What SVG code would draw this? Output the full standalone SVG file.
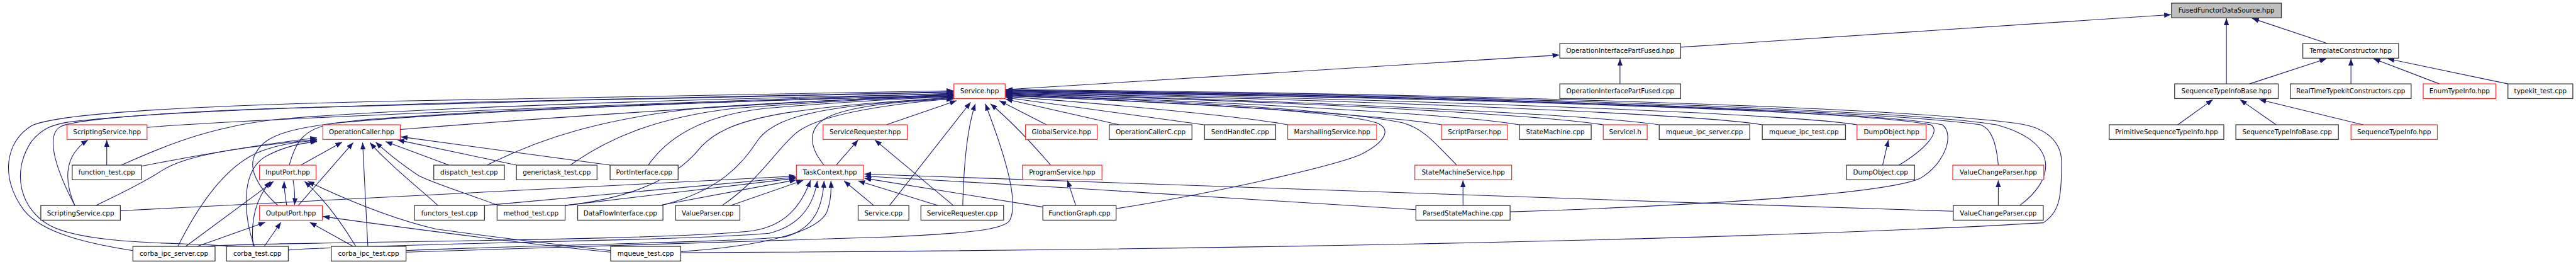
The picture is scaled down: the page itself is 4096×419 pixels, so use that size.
<svg xmlns="http://www.w3.org/2000/svg" width="4096" height="419" viewBox="0 0 4096 419">
<style>
.n rect{fill:#fff;stroke:#333;stroke-width:1.5}
.n.r rect{stroke:#ff2020;stroke-width:1.4}
.n.g rect{fill:#bfbfbf;stroke:#333}
.n text{font-family:"DejaVu Sans","Liberation Sans",sans-serif;font-size:12.5px;text-anchor:middle;fill:#000}
#edges path{fill:none;stroke:#191970;stroke-width:1.3;marker-end:url(#arr)}
</style>
<defs>
<marker id="arr" markerWidth="13" markerHeight="10" refX="13" refY="5" orient="auto" markerUnits="userSpaceOnUse"><path d="M0,0 L13,5 L0,10 z" fill="#191970"/></marker>
</defs>
<rect width="4096" height="419" fill="#fff"/>
<g transform="scale(0.832)">
<g id="edges">
<path d="M3212,90 L4149,28"/>
<path d="M4255,160 L4255,35"/>
<path d="M4448,83 L4304,35"/>
<path d="M1921,171 L2980,105"/>
<path d="M3096,160 L3096,112"/>
<path d="M4299,160 L4446,112"/>
<path d="M4493,160 L4493,112"/>
<path d="M4662,160 L4536,112"/>
<path d="M4793,160 L4563,112"/>
<path d="M4162,238 L4229,190"/>
<path d="M4350,238 L4281,190"/>
<path d="M4516,238 L4318,190"/>
<path d="M254,478 C170,465 80,445 45,400 C0,340 10,270 60,240 C110,215 400,200 800,192 C1200,184 1600,176 1822,173"/>
<path d="M436,470 C380,462 170,470 95,430 C40,400 20,330 60,270 C80,245 100,238 130,233 C300,212 600,205 900,195 C1300,185 1600,178 1822,175"/>
<path d="M143,392 C110,330 85,260 115,242 C140,228 300,215 520,207 C900,195 1500,182 1822,176"/>
<path d="M281,243 C500,225 1300,195 1822,178"/>
<path d="M232,315 C320,275 420,235 560,225 C900,200 1500,185 1822,179"/>
<path d="M765,247 C1100,220 1500,195 1822,180"/>
<path d="M553,315 C565,270 580,245 640,235 C900,210 1500,190 1822,181"/>
<path d="M531,392 C495,360 470,320 490,290 C510,255 560,242 700,228 C1000,205 1500,190 1822,182"/>
<path d="M931,315 C1030,265 1150,225 1350,205 C1550,192 1700,186 1822,183"/>
<path d="M1090,315 C1160,265 1250,225 1400,207 C1600,192 1700,187 1822,184"/>
<path d="M1239,315 C1270,270 1330,222 1460,207 C1600,195 1720,188 1822,185"/>
<path d="M1080,392 C1230,375 1300,330 1340,280 C1390,225 1500,205 1822,186"/>
<path d="M1267,391 C1380,362 1420,310 1450,265 C1490,215 1600,200 1822,187"/>
<path d="M1380,392 C1450,345 1480,290 1520,255 C1560,220 1680,200 1822,188"/>
<path d="M1575,315 C1545,280 1540,240 1590,220 C1640,200 1740,192 1822,189"/>
<path d="M1694,238 L1828,192"/>
<path d="M1700,392 L1855,195"/>
<path d="M1840,392 C1842,300 1850,240 1864,198"/>
<path d="M776,481 C1000,472 1500,460 1700,452 C1850,445 1920,438 1930,420 C1945,390 1930,320 1883,198"/>
<path d="M2008,315 C1965,265 1925,225 1893,198"/>
<path d="M2000,238 L1910,192"/>
<path d="M2139,238 L1922,189"/>
<path d="M2301,238 L1922,186"/>
<path d="M2461,238 C2400,226 2150,200 1922,184"/>
<path d="M2133,398 C2300,372 2540,320 2600,295 C2650,270 2660,245 2630,234 C2560,212 2250,195 1922,183"/>
<path d="M2755,238 C2650,220 2300,198 1922,182"/>
<path d="M2784,315 C2740,270 2720,245 2680,234 C2560,210 2250,192 1922,181"/>
<path d="M2904,238 C2800,220 2400,196 1922,180"/>
<path d="M3064,238 C2950,220 2500,194 1922,179"/>
<path d="M3171,238 C3050,220 2500,192 1922,178"/>
<path d="M3368,238 C3250,218 2600,190 1922,177"/>
<path d="M3549,238 C3430,218 2700,188 1922,176"/>
<path d="M3629,315 C3680,285 3710,250 3690,238 C3560,212 2800,186 1922,175"/>
<path d="M2886,404 C3200,394 3600,372 3670,340 C3720,310 3735,255 3712,238 C3580,212 2800,184 1922,174"/>
<path d="M3819,315 C3815,270 3805,245 3785,238 C3600,212 2800,182 1922,173"/>
<path d="M3860,392 C3930,340 3935,270 3815,238 C3650,210 2800,180 1922,172"/>
<path d="M1301,482 C2200,478 3300,460 3905,425 C3935,405 3940,380 3940,310 C3940,270 3910,245 3865,237 C3650,205 2800,178 1922,171"/>
<path d="M270,317 C400,292 500,275 606,263"/>
<path d="M183,392 C240,365 280,345 310,325 C350,300 420,285 606,266"/>
<path d="M340,470 C380,390 430,320 490,292 C530,275 570,270 606,268"/>
<path d="M486,470 C465,410 460,330 505,300 C540,280 575,273 606,270"/>
<path d="M575,315 L654,271"/>
<path d="M570,392 L675,272"/>
<path d="M703,470 L693,272"/>
<path d="M837,392 C790,350 740,310 707,272"/>
<path d="M950,391 C880,365 830,350 800,335 C770,315 740,292 718,271"/>
<path d="M858,315 L737,270"/>
<path d="M987,315 L760,267"/>
<path d="M1166,315 L766,261"/>
<path d="M355,470 L523,346"/>
<path d="M484,470 C478,420 488,380 517,346"/>
<path d="M548,392 C545,375 543,360 543,346"/>
<path d="M680,470 C650,420 620,380 582,346"/>
<path d="M1167,478 C1100,470 1000,460 833,437 C760,420 680,390 588,346"/>
<path d="M377,470 L507,424"/>
<path d="M505,470 L537,424"/>
<path d="M560,343 C563,360 564,375 563,391"/>
<path d="M675,470 L592,424"/>
<path d="M1167,481 C1050,470 850,445 617,413"/>
<path d="M204,315 L204,267"/>
<path d="M143,392 C120,340 125,295 168,267"/>
<path d="M230,402 L1521,336"/>
<path d="M926,392 L1521,338"/>
<path d="M1080,392 L1521,340"/>
<path d="M1265,391 L1522,343"/>
<path d="M1396,392 L1535,344"/>
<path d="M395,470 C430,462 1300,460 1440,440 C1500,430 1530,395 1549,344"/>
<path d="M551,477 C700,465 1300,460 1470,445 C1530,430 1555,390 1562,345"/>
<path d="M776,478 C1000,468 1400,462 1500,452 C1560,435 1572,390 1575,345"/>
<path d="M1301,480 C1450,470 1560,445 1580,405 C1588,385 1589,365 1588,345"/>
<path d="M1670,392 L1613,345"/>
<path d="M1793,392 L1640,345"/>
<path d="M1993,395 L1652,340"/>
<path d="M2706,400 C2400,380 2000,355 1652,336"/>
<path d="M3733,403 C3000,380 2200,350 1652,332"/>
<path d="M1598,315 L1640,267"/>
<path d="M1822,392 L1672,267"/>
<path d="M2056,392 L2040,344"/>
<path d="M2796,392 L2796,344"/>
<path d="M3598,315 L3609,267"/>
<path d="M3819,392 L3819,344"/>
</g>
<g id="n1" class="n g"><rect x="4150" y="6" width="210" height="28"/><text x="4255" y="24.5">FusedFunctorDataSource.hpp</text></g>
<g id="n2" class="n"><rect x="2981" y="83" width="231" height="28"/><text x="3096.5" y="101.5">OperationInterfacePartFused.hpp</text></g>
<g id="n3" class="n"><rect x="4401" y="83" width="183" height="28"/><text x="4492.5" y="101.5">TemplateConstructor.hpp</text></g>
<g id="n4" class="n r"><rect x="1823" y="160" width="98" height="28"/><text x="1872" y="178.5">Service.hpp</text></g>
<g id="n5" class="n"><rect x="2981" y="160" width="231" height="28"/><text x="3096.5" y="178.5">OperationInterfacePartFused.cpp</text></g>
<g id="n6" class="n"><rect x="4156" y="160" width="198" height="28"/><text x="4255" y="178.5">SequenceTypeInfoBase.hpp</text></g>
<g id="n7" class="n"><rect x="4377" y="160" width="231" height="28"/><text x="4492.5" y="178.5">RealTimeTypekitConstructors.cpp</text></g>
<g id="n8" class="n r"><rect x="4631" y="160" width="139" height="28"/><text x="4700.5" y="178.5">EnumTypeInfo.hpp</text></g>
<g id="n9" class="n"><rect x="4793" y="160" width="124" height="28"/><text x="4855" y="178.5">typekit_test.cpp</text></g>
<g id="n10" class="n r"><rect x="128" y="238" width="153" height="28"/><text x="204.5" y="256.5">ScriptingService.hpp</text></g>
<g id="n11" class="n r"><rect x="617" y="238" width="148" height="28"/><text x="691" y="256.5">OperationCaller.hpp</text></g>
<g id="n12" class="n r"><rect x="1573" y="238" width="161" height="28"/><text x="1653.5" y="256.5">ServiceRequester.hpp</text></g>
<g id="n13" class="n r"><rect x="1960" y="238" width="137" height="28"/><text x="2028.5" y="256.5">GlobalService.hpp</text></g>
<g id="n14" class="n"><rect x="2120" y="238" width="158" height="28"/><text x="2199" y="256.5">OperationCallerC.cpp</text></g>
<g id="n15" class="n"><rect x="2302" y="238" width="136" height="28"/><text x="2370" y="256.5">SendHandleC.cpp</text></g>
<g id="n16" class="n r"><rect x="2461" y="238" width="170" height="28"/><text x="2546" y="256.5">MarshallingService.hpp</text></g>
<g id="n17" class="n r"><rect x="2755" y="238" width="126" height="28"/><text x="2818" y="256.5">ScriptParser.hpp</text></g>
<g id="n18" class="n"><rect x="2904" y="238" width="137" height="28"/><text x="2972.5" y="256.5">StateMachine.cpp</text></g>
<g id="n19" class="n r"><rect x="3064" y="238" width="84" height="28"/><text x="3106" y="256.5">ServiceI.h</text></g>
<g id="n20" class="n"><rect x="3171" y="238" width="173" height="28"/><text x="3257.5" y="256.5">mqueue_ipc_server.cpp</text></g>
<g id="n21" class="n"><rect x="3368" y="238" width="159" height="28"/><text x="3447.5" y="256.5">mqueue_ipc_test.cpp</text></g>
<g id="n22" class="n r"><rect x="3549" y="238" width="132" height="28"/><text x="3615" y="256.5">DumpObject.hpp</text></g>
<g id="n23" class="n"><rect x="4031" y="238" width="219" height="28"/><text x="4140.5" y="256.5">PrimitiveSequenceTypeInfo.hpp</text></g>
<g id="n24" class="n"><rect x="4273" y="238" width="196" height="28"/><text x="4371" y="256.5">SequenceTypeInfoBase.cpp</text></g>
<g id="n25" class="n r"><rect x="4493" y="238" width="165" height="28"/><text x="4575.5" y="256.5">SequenceTypeInfo.hpp</text></g>
<g id="n26" class="n"><rect x="138" y="315" width="132" height="28"/><text x="204" y="333.5">function_test.cpp</text></g>
<g id="n27" class="n r"><rect x="496" y="315" width="108" height="28"/><text x="550" y="333.5">InputPort.hpp</text></g>
<g id="n28" class="n"><rect x="829" y="315" width="135" height="28"/><text x="896.5" y="333.5">dispatch_test.cpp</text></g>
<g id="n29" class="n"><rect x="987" y="315" width="154" height="28"/><text x="1064" y="333.5">generictask_test.cpp</text></g>
<g id="n30" class="n"><rect x="1166" y="315" width="130" height="28"/><text x="1231" y="333.5">PortInterface.cpp</text></g>
<g id="n31" class="n r"><rect x="1522" y="315" width="128" height="28"/><text x="1586" y="333.5">TaskContext.hpp</text></g>
<g id="n32" class="n r"><rect x="1954" y="315" width="152" height="28"/><text x="2030" y="333.5">ProgramService.hpp</text></g>
<g id="n33" class="n r"><rect x="2704" y="315" width="185" height="28"/><text x="2796.5" y="333.5">StateMachineService.hpp</text></g>
<g id="n34" class="n"><rect x="3529" y="315" width="130" height="28"/><text x="3594" y="333.5">DumpObject.cpp</text></g>
<g id="n35" class="n r"><rect x="3732" y="315" width="174" height="28"/><text x="3819" y="333.5">ValueChangeParser.hpp</text></g>
<g id="n36" class="n"><rect x="78" y="392" width="152" height="28"/><text x="154" y="410.5">ScriptingService.cpp</text></g>
<g id="n37" class="n r"><rect x="496" y="392" width="120" height="28"/><text x="556" y="410.5">OutputPort.hpp</text></g>
<g id="n38" class="n"><rect x="792" y="392" width="134" height="28"/><text x="859" y="410.5">functors_test.cpp</text></g>
<g id="n39" class="n"><rect x="950" y="392" width="130" height="28"/><text x="1015" y="410.5">method_test.cpp</text></g>
<g id="n40" class="n"><rect x="1104" y="392" width="163" height="28"/><text x="1185.5" y="410.5">DataFlowInterface.cpp</text></g>
<g id="n41" class="n"><rect x="1291" y="392" width="123" height="28"/><text x="1352.5" y="410.5">ValueParser.cpp</text></g>
<g id="n42" class="n"><rect x="1640" y="392" width="97" height="28"/><text x="1688.5" y="410.5">Service.cpp</text></g>
<g id="n43" class="n"><rect x="1760" y="392" width="158" height="28"/><text x="1839" y="410.5">ServiceRequester.cpp</text></g>
<g id="n44" class="n"><rect x="1993" y="392" width="140" height="28"/><text x="2063" y="410.5">FunctionGraph.cpp</text></g>
<g id="n45" class="n"><rect x="2706" y="392" width="180" height="28"/><text x="2796" y="410.5">ParsedStateMachine.cpp</text></g>
<g id="n46" class="n"><rect x="3733" y="392" width="172" height="28"/><text x="3819" y="410.5">ValueChangeParser.cpp</text></g>
<g id="n47" class="n"><rect x="254" y="470" width="157" height="28"/><text x="332.5" y="488.5">corba_ipc_server.cpp</text></g>
<g id="n48" class="n"><rect x="433" y="470" width="118" height="28"/><text x="492" y="488.5">corba_test.cpp</text></g>
<g id="n49" class="n"><rect x="633" y="470" width="143" height="28"/><text x="704.5" y="488.5">corba_ipc_test.cpp</text></g>
<g id="n50" class="n"><rect x="1167" y="470" width="134" height="28"/><text x="1234" y="488.5">mqueue_test.cpp</text></g>
</g>
</svg>
